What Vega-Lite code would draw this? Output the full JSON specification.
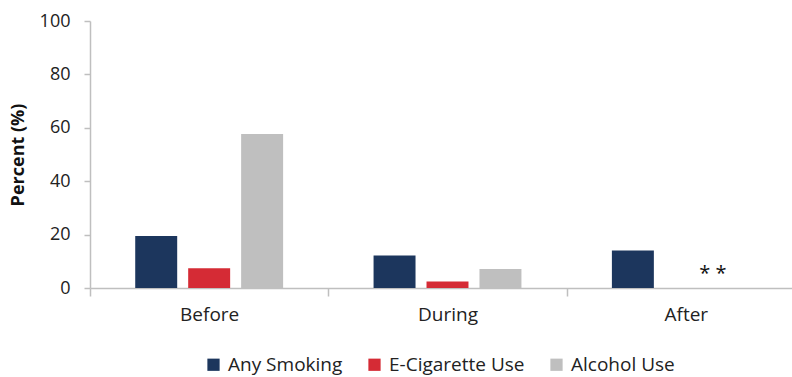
{
  "$schema": "https://vega.github.io/schema/vega-lite/v6.json",
  "autosize": {"type": "none"},
  "padding": {"left": 90, "top": 21, "right": 0, "bottom": 89},
  "width": 702,
  "height": 267,
  "config": {
    "view": {"stroke": null},
    "font": "Open Sans",
    "axis": {"labelFont": "Open Sans", "titleFont": "Open Sans", "labelColor": "#222222", "titleColor": "#111111", "domainColor": "#BFBFBF", "tickColor": "#BFBFBF", "grid": false}
  },
  "datasets": {
    "bars": [
      {"period": "Before", "measure": "Any Smoking", "percent": 19.5},
      {"period": "Before", "measure": "E-Cigarette Use", "percent": 7.4},
      {"period": "Before", "measure": "Alcohol Use", "percent": 57.7},
      {"period": "During", "measure": "Any Smoking", "percent": 12.2},
      {"period": "During", "measure": "E-Cigarette Use", "percent": 2.4},
      {"period": "During", "measure": "Alcohol Use", "percent": 7.1},
      {"period": "After", "measure": "Any Smoking", "percent": 14.0}
    ],
    "notes": [
      {"period": "After", "note": "* *"}
    ]
  },
  "layer": [
    {
      "data": {"name": "bars"},
      "mark": {"type": "bar"},
      "encoding": {
        "x": {
          "field": "period", "type": "nominal", "sort": ["Before", "During", "After"],
          "scale": {"paddingInner": 0, "paddingOuter": 0, "range": [0, 715]},
          "axis": {"title": null, "labelAngle": 0, "labelFontSize": 19, "labelPadding": 9, "tickBand": "extent", "tickSize": 8, "domainWidth": 1.5, "tickWidth": 1.5}
        },
        "xOffset": {
          "field": "measure", "type": "nominal", "sort": ["Any Smoking", "E-Cigarette Use", "Alcohol Use"],
          "scale": {"paddingInner": 0.2075, "paddingOuter": 0.854}
        },
        "y": {
          "field": "percent", "type": "quantitative",
          "scale": {"domain": [0, 100], "nice": false},
          "axis": {"title": "Percent (%)", "titleFontSize": 18, "titleFontWeight": "bold", "titlePadding": 12, "labelFontSize": 18, "labelPadding": 14, "tickSize": 6, "values": [0, 20, 40, 60, 80, 100], "domainWidth": 1.5, "tickWidth": 1.5}
        },
        "color": {
          "field": "measure", "type": "nominal", "sort": ["Any Smoking", "E-Cigarette Use", "Alcohol Use"],
          "scale": {"domain": ["Any Smoking", "E-Cigarette Use", "Alcohol Use"], "range": ["#1C365D", "#D52B35", "#BFBFBF"]},
          "legend": {"title": null, "orient": "none", "legendX": 114, "legendY": 334, "direction": "horizontal", "symbolType": "square", "symbolSize": 150, "symbolStrokeWidth": 0, "labelFontSize": 19, "labelFont": "Open Sans", "labelColor": "#222222", "columnPadding": 22, "labelOffset": 5}
        }
      }
    },
    {
      "data": {"name": "notes"},
      "mark": {"type": "text", "fontSize": 20, "dx": 27, "dy": -8, "baseline": "alphabetic", "align": "center", "color": "#111111", "font": "Open Sans"},
      "encoding": {
        "x": {"field": "period", "type": "nominal", "sort": ["Before", "During", "After"]},
        "y": {"datum": 0, "type": "quantitative"},
        "text": {"field": "note"}
      }
    }
  ]
}
